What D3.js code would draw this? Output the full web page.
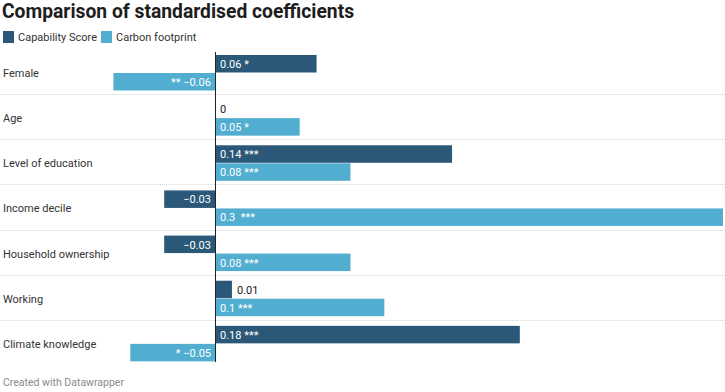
<!DOCTYPE html>
<html>
<head>
<meta charset="utf-8">
<script src="https://cdnjs.cloudflare.com/ajax/libs/d3/7.8.5/d3.min.js"></script>
<style>
  body { margin: 0; background: #fff; font-family: Roboto, "Noto Sans", sans-serif; }
  svg { display: block; }
</style>
</head>
<body>
<div id="chart"></div>
<script>
// data
var categories = ["Female", "Age", "Level of education", "Income decile", "Household ownership", "Working", "Climate knowledge"];
var seriesNames = ["Capability Score", "Carbon footprint"];
var capability = [0.06, 0, 0.14, -0.03, -0.03, 0.01, 0.18];
var capabilityStars = ["*", "", "***", "", "", "", "***"];
var carbon = [-0.06, 0.05, 0.08, 0.3, 0.08, 0.1, -0.05];
var carbonStars = ["**", "*", "***", "***", "***", "***", "*"];

var colors = ["#2b5878", "#52aed1"];

var width = 725,
    height = 392;

var svg = d3.select("#chart").append("svg")
  .attr("width", width)
  .attr("height", height);

// title
svg.append("text")
  .attr("x", 2)
  .attr("y", 18)
  .style("font-size", "19.3px")
  .style("font-weight", "700")
  .style("fill", "#1d1d1d")
  .text("Comparison of standardised coefficients");

// legend
var legend = svg.append("g").attr("transform", "translate(3,31)");
var legendX = [0, 98];
seriesNames.forEach(function (name, i) {
  var lg = legend.append("g").attr("transform", "translate(" + legendX[i] + ",0)");
  lg.append("rect").attr("width", 11).attr("height", 12).attr("fill", colors[i]);
  lg.append("text")
    .attr("x", 15).attr("y", 10)
    .style("font-size", "11px")
    .style("fill", "#333")
    .text(name);
});

// scales
var x = d3.scaleLinear().domain([0, 0.3]).range([215, 723]);
var y = d3.scaleBand().domain(categories).range([50, 366]);
var barH = 18;

var rows = categories.map(function (c, i) {
  return {
    name: c,
    values: [
      { v: capability[i], stars: capabilityStars[i], s: 0 },
      { v: carbon[i], stars: carbonStars[i], s: 1 }
    ]
  };
});

var fmt = function (v) {
  return (v < 0 ? "\u2212" : "") + Math.abs(v);
};

// dotted separators between rows
svg.selectAll(".sep")
  .data(categories.slice(1))
  .enter().append("line")
  .attr("class", "sep")
  .attr("x1", 0).attr("x2", width)
  .attr("y1", function (d) { return Math.round(y(d)) - 0.5; })
  .attr("y2", function (d) { return Math.round(y(d)) - 0.5; })
  .attr("stroke", "#d6d6d6")
  .attr("stroke-dasharray", "1,1");

var row = svg.selectAll(".row")
  .data(rows)
  .enter().append("g")
  .attr("class", "row")
  .attr("transform", function (d) { return "translate(0," + (y(d.name) + 5) + ")"; });

row.append("text")
  .attr("x", 3)
  .attr("y", barH + 4)
  .style("font-size", "11px")
  .style("fill", "#333")
  .text(function (d) { return d.name; });

var bar = row.selectAll(".bar")
  .data(function (d) { return d.values; })
  .enter().append("g")
  .attr("class", "bar");

bar.append("rect")
  .attr("x", function (d) { return Math.min(x(0), x(d.v)); })
  .attr("y", function (d) { return d.s * barH; })
  .attr("width", function (d) { return Math.abs(x(d.v) - x(0)); })
  .attr("height", barH - 0.5)
  .attr("fill", function (d) { return colors[d.s]; });

bar.append("text")
  .attr("y", function (d) { return d.s * barH + 13; })
  .style("font-size", "11px")
  .text(function (d) {
    if (!d.stars) return fmt(d.v);
    return d.v < 0 ? d.stars + " " + fmt(d.v) : fmt(d.v) + (d.v === 0.3 ? "  " : " ") + d.stars;
  })
  .each(function (d) {
    var t = d3.select(this),
        w = this.getComputedTextLength(),
        barW = Math.abs(x(d.v) - x(0)),
        inside = w + 10 <= barW;
    if (d.v < 0) {
      t.attr("text-anchor", "end")
        .attr("x", inside ? x(0) - 4 : x(d.v) - 5);
    } else {
      t.attr("text-anchor", "start")
        .attr("x", inside ? x(0) + 5 : x(d.v) + 5);
    }
    t.style("fill", inside ? "#fff" : "#222");
  })
  .attr("xml:space", "preserve");

// zero line
svg.append("line")
  .attr("x1", x(0) + 0.5).attr("x2", x(0) + 0.5)
  .attr("y1", 52).attr("y2", 362)
  .attr("stroke", "#222")
  .attr("stroke-width", 1);

// footer
svg.append("text")
  .attr("x", 3)
  .attr("y", 386)
  .style("font-size", "10.5px")
  .style("fill", "#8a8a8a")
  .text("Created with Datawrapper");
</script>
</body>
</html>
